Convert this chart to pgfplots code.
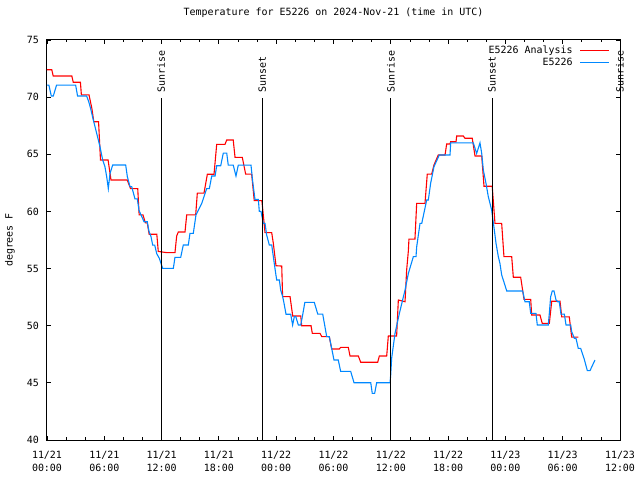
\documentclass[border=0pt]{standalone}
\usepackage{fontspec}
\setmainfont{DejaVu Sans Mono}
\usepackage{pgfplots}
\pgfplotsset{compat=1.18}
\definecolor{obsblue}{RGB}{0,136,255}
\definecolor{anared}{RGB}{255,0,0}
\newcommand{\gfont}{\fontsize{10}{13}\selectfont}

\begin{document}
\begin{tikzpicture}
\useasboundingbox (-47bp,-40bp) rectangle (593bp,440bp);
\begin{axis}[
  scale only axis, width=573bp, height=400bp,
  xmin=0, xmax=60, ymin=40, ymax=75,
  xtick={0,6,...,60}, minor x tick num=2,
  xticklabels={{11/21\\00:00},{11/21\\06:00},{11/21\\12:00},{11/21\\18:00},
    {11/22\\00:00},{11/22\\06:00},{11/22\\12:00},{11/22\\18:00},
    {11/23\\00:00},{11/23\\06:00},{11/23\\12:00}},
  ytick={40,45,...,75},
  tick align=inside,
  major tick length=4bp, minor tick length=2.5bp,
  tick style={black, line width=0.8bp},
  axis line style={line width=1bp},
  every tick label/.append style={font=\gfont},
  xticklabel style={align=center, inner sep=0pt, yshift=-10.5bp},
  yticklabel style={inner sep=0pt, xshift=-8bp},
  /pgf/number format/assume math mode=true,
  title={Temperature for E5226 on 2024-Nov-21 (time in UTC)},
  title style={at={(0.5,1)}, anchor=center, yshift=21bp, font=\gfont},
  clip=false,
  legend plot pos=right,
  legend cell align=right,
  legend style={draw=none, fill=none, at={(1,1)}, anchor=north east,
    xshift=-10bp, yshift=-6bp, font=\gfont, inner sep=0pt,
    row sep=2.5bp, column sep=7bp, nodes={inner sep=0pt}},
  legend image code/.code={\draw[#1] (0bp,0bp) -- (29bp,0bp);},
]

% analysis
\addplot[anared, line width=1.1bp, sharp plot] coordinates {
(0,72.4) (0.5,72.4) (0.65,71.85) (2.6,71.85) (2.75,71.3) (3.5,71.3) (3.6,70.2)
(4.4,70.2) (4.7,69.0) (4.9,67.85) (5.4,67.85) (5.6,64.5) (6.4,64.5) (6.7,62.75)
(8.4,62.75) (8.75,62.0) (9.5,62.0) (9.65,59.7) (10.05,59.7) (10.3,59.0) (10.5,59.0)
(10.7,58.0) (11.5,58.0) (11.65,56.5) (12.5,56.4) (13.4,56.4) (13.58,57.85)
(13.75,58.2) (14.45,58.2) (14.63,59.7) (15.57,59.7) (15.74,61.6) (16.44,61.6)
(16.79,63.25) (17.49,63.25) (17.77,65.87) (18.64,65.87) (18.82,66.25) (19.5,66.25)
(19.69,64.73) (20.45,64.73) (20.8,63.27) (21.43,63.27) (21.7,60.95) (22.5,60.95)
(22.83,58.14) (23.53,58.14) (23.7,57.2) (23.98,55.25) (24.58,55.22) (24.67,52.54)
(25.45,52.54) (25.73,50.85) (26.57,50.85) (26.67,50.0) (27.65,50.0) (27.78,49.33)
(28.59,49.33) (28.77,49.04) (29.56,49.04) (29.81,47.96) (30.6,47.96) (30.75,48.1)
(31.55,48.1) (31.73,47.35) (32.6,47.35) (32.85,46.8) (34.63,46.8) (34.8,47.35)
(35.57,47.35) (35.74,49.1) (36.61,49.1) (36.79,52.25) (37.49,52.1) (37.66,54.87)
(37.84,56.56) (37.9,57.58) (38.53,57.58) (38.71,60.7) (39.58,60.7) (39.82,63.27)
(40.28,63.27) (40.52,64.06) (40.97,64.94) (41.68,64.94) (41.85,65.9) (42.2,65.9)
(42.27,66.1) (42.83,66.1) (42.9,66.6) (43.59,66.6) (43.77,66.4) (44.53,66.4)
(44.82,64.85) (45.52,64.85) (45.76,62.2) (46.62,62.2) (46.91,58.95) (47.61,58.95)
(47.85,56.04) (48.66,56.04) (48.83,54.24) (49.6,54.24) (49.95,52.3) (50.65,52.3)
(50.75,50.94) (51.62,50.94) (51.86,50.2) (52.6,50.2) (52.85,52.14) (53.72,52.14)
(53.9,50.77) (54.69,50.77) (54.94,49.0) (55.63,49.0)
};
\addlegendentry{E5226 Analysis}

% observations
\addplot[obsblue, line width=1.1bp, sharp plot] coordinates {
(0,71.05) (0.2,71.05) (0.45,70.1) (0.66,70.1) (1.0,71.05) (3.0,71.05) (3.2,70.1)
(4.15,70.1) (4.37,69.6) (4.57,69.0) (4.85,68.0) (5.2,66.83) (5.55,65.66) (5.83,64.5)
(6.07,63.9) (6.25,63.04) (6.42,62.0) (6.6,63.33) (6.88,64.06) (8.24,64.06)
(8.41,63.05) (8.69,62.17) (8.87,62.17) (9.21,61.1) (9.46,61.1) (9.63,60.1)
(10.16,59.1) (10.5,59.1) (10.68,58.25) (10.89,57.8) (11.07,57.05) (11.28,57.05)
(11.49,56.3) (11.76,55.9) (12.11,55.02) (13.23,55.02) (13.4,55.98) (14.0,55.98)
(14.27,57.06) (14.8,57.06) (14.97,58.08) (15.32,58.08) (15.6,59.7) (16.2,60.7)
(16.72,62.0) (17.0,62.0) (17.25,63.1) (17.6,63.1) (17.77,64.0) (18.19,64.0)
(18.46,65.1) (18.82,65.1) (18.98,64.05) (19.5,64.05) (19.79,63.1) (20.03,64.05)
(21.36,64.05) (21.54,62.6) (21.78,61.05) (22.13,61.05) (22.23,60.0) (22.41,60.0)
(22.65,58.95) (22.83,58.95) (23.0,57.94) (23.28,57.06) (23.53,57.06) (23.7,56.04)
(23.87,55.02) (24.05,54.0) (24.33,54.0) (24.47,53.12) (24.68,52.54) (24.82,51.96)
(25.03,51.0) (25.52,51.0) (25.72,50.06) (25.9,50.8) (26.05,50.8) (26.32,50.06)
(26.57,50.06) (26.74,50.8) (27.0,52.04) (27.99,52.04) (28.35,51.02) (28.87,51.02)
(29.29,49.04) (29.56,49.04) (29.81,48.02) (30.05,47.0) (30.5,47.0) (30.75,46.0)
(31.8,46.0) (32.15,45.01) (33.9,45.01) (34.06,44.08) (34.31,44.08) (34.52,45.01)
(35.92,45.01) (35.99,45.69) (36.09,47.15) (36.44,49.33) (36.9,51.08) (37.49,53.12)
(37.84,54.58) (38.36,56.04) (38.64,56.04) (38.71,56.9) (39.06,58.95) (39.24,58.95)
(39.76,61.0) (39.93,61.0) (40.17,62.45) (40.52,63.91) (41.08,64.94) (42.2,64.94)
(42.27,66.0) (44.64,66.0) (44.99,65.07) (45.34,66.0) (45.52,65.07) (45.69,63.62)
(45.97,62.45) (46.21,61.29) (46.56,60.12) (46.84,58.37) (47.02,57.2) (47.26,56.04)
(47.43,55.45) (47.61,54.44) (47.78,54.0) (48.14,53.04) (49.81,53.04) (50.05,52.1)
(50.5,52.1) (50.65,51.08) (51.2,51.08) (51.34,50.06) (52.49,50.06) (52.6,51.08)
(52.74,52.54) (52.91,53.04) (53.09,53.04) (53.3,52.25) (53.48,52.1) (53.64,52.1)
(53.82,51.02) (54.17,51.02) (54.35,50.06) (54.84,50.06) (54.94,49.48) (55.22,48.9)
(55.39,48.9) (55.63,48.02) (55.88,48.02) (56.23,47.15) (56.58,46.07) (56.86,46.07)
(57.38,47.0)
};
\addlegendentry{E5226}

% sunrise / sunset markers
\addplot[black, line width=1bp, forget plot] coordinates {(11.95,40) (11.95,69.9)};
\addplot[black, line width=1bp, forget plot] coordinates {(22.55,40) (22.55,69.9)};
\addplot[black, line width=1bp, forget plot] coordinates {(36.0,40) (36.0,69.9)};
\addplot[black, line width=1bp, forget plot] coordinates {(46.6,40) (46.6,69.9)};
\addplot[black, line width=1bp, forget plot] coordinates {(60.0,40) (60.0,69.9)};
\node[rotate=90, anchor=west, inner sep=0pt, font=\gfont] at (axis cs:11.95,70.4) {Sunrise};
\node[rotate=90, anchor=west, inner sep=0pt, font=\gfont] at (axis cs:22.55,70.4) {Sunset};
\node[rotate=90, anchor=west, inner sep=0pt, font=\gfont] at (axis cs:36.0,70.4) {Sunrise};
\node[rotate=90, anchor=west, inner sep=0pt, font=\gfont] at (axis cs:46.6,70.4) {Sunset};
\node[rotate=90, anchor=west, inner sep=0pt, font=\gfont] at (axis cs:60.0,70.4) {Sunrise};

\node[rotate=90, font=\gfont] at ([xshift=-37bp]axis description cs:0,0.5) {degrees F};
\end{axis}
\end{tikzpicture}
\end{document}
